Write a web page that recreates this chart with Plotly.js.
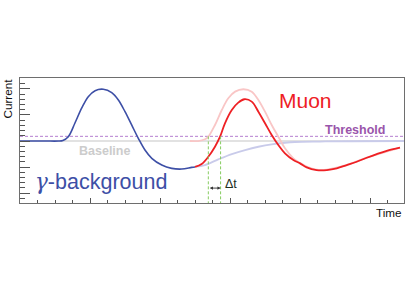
<!DOCTYPE html>
<html>
<head>
<meta charset="utf-8">
<script src="https://cdn.plot.ly/plotly-3.0.1.min.js"></script>
<style>html,body{margin:0;padding:0;background:#fff;}#chart{width:415px;height:294px;}</style>
</head>
<body>
<div id="chart"></div>
<script>
// gamma-background pulse (dark blue)
var blueX = [0, 1.43, 2.2, 2.45, 2.76, 3.14, 3.53, 3.90, 4.29, 4.76, 5.24, 5.62, 6.0, 6.38, 6.76, 7.14, 7.53, 8.1, 8.67, 9.24, 9.81, 10.0];
var blueY = [0, 0, 0, 0.12, 0.83, 3.46, 6.35, 8.52, 9.67, 9.94, 9.29, 7.88, 5.63, 3.08, 0.52, -1.73, -3.33, -4.62, -5.25, -5.38, -5.06, -4.98];
// gamma tail after the muon starts (light blue)
var lightBlueX = [10.0, 10.57, 11.33, 12.1, 12.86, 13.62, 14.38, 15.14, 15.71, 17.14, 18.86, 21.94];
var lightBlueY = [-4.98, -4.62, -3.52, -2.5, -1.73, -1.1, -0.63, -0.33, -0.19, -0.1, -0.04, 0];
// muon pulse on the baseline (light red)
var pinkX = [9.71, 10.17, 10.57, 10.76, 11.14, 11.53, 11.9, 12.29, 12.76, 13.24, 13.62, 14.0, 14.38, 14.76, 15.14, 15.62, 16.0, 16.38, 16.95, 17.53, 18.67, 19.81, 21.71];
var pinkY = [0, 0, 0.33, 0.83, 3.08, 5.96, 8.21, 9.48, 9.94, 9.48, 7.88, 5.63, 3.08, 0.83, -1.4, -3.33, -4.2, -4.9, -5.5, -5.5, -4.6, -3.2, -1.25];
// muon + gamma tail (red)
var redX = [10.0, 10.38, 10.76, 11.14, 11.43, 11.71, 12.1, 12.47, 12.82, 13.24, 13.62, 14.0, 14.38, 14.76, 15.14, 15.62, 16.0, 16.38, 16.95, 17.53, 18.1, 18.67, 19.24, 19.81, 20.38, 20.95, 21.71];
var redY = [-4.98, -4.42, -3.02, -1.1, 0.83, 3.4, 5.96, 7.37, 8.02, 7.56, 5.63, 3.4, 1.15, -0.77, -2.37, -3.65, -4.29, -5.06, -5.58, -5.58, -5.25, -4.62, -3.98, -3.21, -2.5, -1.87, -1.29];
var baselineLevel = 0;
var thresholdLevel = 0.9;
var crossTimes = [10.76, 11.46];
var xRange = [0, 21.94];
var yRange = [-11.9, 12.1];

var traces = [
  {x: xRange, y: [baselineLevel, baselineLevel], mode: 'lines', line: {color: '#d9d9d9', width: 1.5}},
  {x: xRange, y: [thresholdLevel, thresholdLevel], mode: 'lines', line: {color: '#b57fd0', width: 1, dash: '3px,2px'}},
  {x: lightBlueX, y: lightBlueY, mode: 'lines', line: {color: '#c9cbea', width: 1.8, shape: 'spline', smoothing: 1}},
  {x: pinkX, y: pinkY, mode: 'lines', line: {color: '#f9c6c6', width: 1.8, shape: 'spline', smoothing: 1}},
  {x: blueX, y: blueY, mode: 'lines', line: {color: '#3d4fa6', width: 1.6, shape: 'spline', smoothing: 1}},
  {x: redX, y: redY, mode: 'lines', line: {color: '#ee2024', width: 1.8, shape: 'spline', smoothing: 1}},
  {x: [crossTimes[0], crossTimes[0]], y: [thresholdLevel, yRange[0]], mode: 'lines', line: {color: '#86cc60', width: 1, dash: '3px,2px'}},
  {x: [crossTimes[1], crossTimes[1]], y: [thresholdLevel, yRange[0]], mode: 'lines', line: {color: '#86cc60', width: 1, dash: '3px,2px'}}
];

var layout = {
  width: 415, height: 294,
  margin: {l: 20, r: 11, t: 78, b: 91, pad: 0},
  paper_bgcolor: '#fff', plot_bgcolor: '#fff',
  showlegend: false,
  font: {family: 'Liberation Sans, Arial, sans-serif'},
  xaxis: {
    range: xRange, showgrid: false, zeroline: false, showticklabels: false,
    showline: true, mirror: true, linecolor: '#6e6e6e', linewidth: 1.3,
    ticks: 'inside', tick0: 0, dtick: 4, ticklen: 5, tickwidth: 1, tickcolor: '#555',
    minor: {ticks: 'inside', dtick: 1, tick0: 0, ticklen: 3, tickwidth: 1, tickcolor: '#555', showgrid: false}
  },
  yaxis: {
    range: yRange, showgrid: false, zeroline: false, showticklabels: false,
    showline: true, mirror: true, linecolor: '#6e6e6e', linewidth: 1.3,
    ticks: 'inside', tick0: 0, dtick: 5, ticklen: 10, tickwidth: 1, tickcolor: '#555',
    minor: {ticks: 'inside', dtick: 1, tick0: 0, ticklen: 5, tickwidth: 1, tickcolor: '#555', showgrid: false}
  },
  annotations: [
    {xref: 'paper', yref: 'paper', x: -0.0326, y: 0.84, text: 'Current', showarrow: false, textangle: -90,
     xanchor: 'center', yanchor: 'middle', font: {size: 11.7, color: '#111'}},
    {xref: 'paper', yref: 'paper', x: 1.0, y: -0.072, text: 'Time', showarrow: false,
     xanchor: 'right', yanchor: 'middle', font: {size: 11.7, color: '#111'}},
    {xref: 'x', yref: 'y', x: 4.8, y: -1.9, text: '<b>Baseline</b>', showarrow: false,
     xanchor: 'center', yanchor: 'middle', font: {size: 12.5, color: '#cccccc'}},
    {xref: 'x', yref: 'y', x: 0.72, y: -7.8, text: '<span style="font-family:DejaVu Serif, serif"><i>γ</i></span>-background', showarrow: false,
     xanchor: 'left', yanchor: 'middle', font: {size: 21.5, color: '#3d4fa6'}},
    {xref: 'x', yref: 'y', x: 16.31, y: 7.8, text: 'Muon', showarrow: false,
     xanchor: 'center', yanchor: 'middle', font: {size: 21, color: '#ee2024'}},
    {xref: 'x', yref: 'y', x: 20.97, y: 2.2, text: '<b>Threshold</b>', showarrow: false,
     xanchor: 'right', yanchor: 'middle', font: {size: 12.5, color: '#9a55ab'}},
    {xref: 'x', yref: 'y', x: 11.58, y: -8.2, text: 'Δt', showarrow: false,
     xanchor: 'left', yanchor: 'middle', font: {size: 12.5, color: '#1e2e1e'}},
    {xref: 'x', yref: 'y', axref: 'x', ayref: 'y', x: crossTimes[1], y: -9.04, ax: crossTimes[0], ay: -9.04,
     text: '', showarrow: true, arrowside: 'end+start', arrowhead: 2, arrowsize: 0.7, arrowwidth: 0.9,
     arrowcolor: '#333', standoff: 0, startstandoff: 0}
  ]
};

Plotly.newPlot('chart', traces, layout, {staticPlot: true, displayModeBar: false});
</script>
</body>
</html>
